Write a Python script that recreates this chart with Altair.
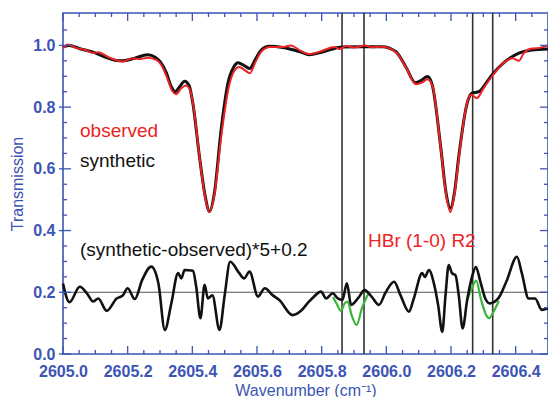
import altair as alt
import pandas as pd

# --- spectra: wavenumber (cm-1) and transmission ---
syn_wn = [2605.000, 2605.020, 2605.050, 2605.093, 2605.130, 2605.160, 2605.186, 2605.220,
          2605.262, 2605.285, 2605.300, 2605.320, 2605.335, 2605.347, 2605.362, 2605.376,
          2605.390, 2605.402, 2605.422, 2605.440, 2605.453, 2605.468, 2605.489, 2605.510,
          2605.528, 2605.541, 2605.560, 2605.577, 2605.595, 2605.613, 2605.638, 2605.680,
          2605.731, 2605.762, 2605.800, 2605.864, 2605.920, 2605.987, 2606.029, 2606.060,
          2606.090, 2606.110, 2606.127, 2606.142, 2606.168, 2606.185, 2606.198, 2606.211,
          2606.224, 2606.250, 2606.265, 2606.286, 2606.310, 2606.327, 2606.368, 2606.410,
          2606.450, 2606.500]
syn_T = [0.995, 1.000, 0.990, 0.978, 0.962, 0.952, 0.950, 0.958,
         0.970, 0.962, 0.948, 0.910, 0.866, 0.850, 0.868, 0.884,
         0.870, 0.810, 0.640, 0.510, 0.462, 0.520, 0.726, 0.877,
         0.930, 0.944, 0.935, 0.925, 0.955, 0.985, 0.997, 0.993,
         0.980, 0.970, 0.978, 0.995, 0.996, 0.996, 0.980, 0.931,
         0.879, 0.888, 0.899, 0.872, 0.672, 0.520, 0.472, 0.525,
         0.640, 0.813, 0.845, 0.850, 0.880, 0.904, 0.948, 0.975,
         0.985, 0.988]

obs_wn = [2605.000, 2605.015, 2605.040, 2605.070, 2605.093, 2605.110, 2605.140, 2605.186,
          2605.215, 2605.240, 2605.262, 2605.290, 2605.305, 2605.322, 2605.338, 2605.350,
          2605.365, 2605.380, 2605.392, 2605.404, 2605.422, 2605.440, 2605.453, 2605.468,
          2605.490, 2605.512, 2605.530, 2605.545, 2605.562, 2605.578, 2605.596, 2605.615,
          2605.640, 2605.680, 2605.705, 2605.731, 2605.762, 2605.800, 2605.840, 2605.855,
          2605.875, 2605.900, 2605.935, 2605.955, 2605.985, 2606.030, 2606.060, 2606.092,
          2606.112, 2606.127, 2606.143, 2606.168, 2606.185, 2606.198, 2606.211, 2606.226,
          2606.250, 2606.263, 2606.280, 2606.300, 2606.327, 2606.365, 2606.390, 2606.410,
          2606.425, 2606.450, 2606.475, 2606.500]
obs_T = [0.990, 1.003, 0.992, 0.985, 0.975, 0.978, 0.962, 0.948,
         0.958, 0.956, 0.960, 0.952, 0.935, 0.895, 0.852, 0.842,
         0.860, 0.870, 0.858, 0.800, 0.640, 0.505, 0.460, 0.515,
         0.710, 0.862, 0.918, 0.930, 0.920, 0.910, 0.948, 0.982,
         0.995, 0.995, 1.000, 0.985, 0.972, 0.982, 0.995, 0.988,
         0.998, 0.993, 1.000, 0.994, 0.996, 0.978, 0.930, 0.874,
         0.880, 0.890, 0.868, 0.670, 0.515, 0.460, 0.520, 0.650,
         0.815, 0.840, 0.829, 0.860, 0.900, 0.945, 0.958, 0.950,
         0.975, 0.990, 0.992, 1.000]

# --- residual: (synthetic-observed)*5+0.2 ---
res_wn = [2605.000, 2605.020, 2605.052, 2605.075, 2605.093, 2605.109, 2605.135, 2605.166,
          2605.185, 2605.200, 2605.222, 2605.245, 2605.273, 2605.295, 2605.315, 2605.335,
          2605.356, 2605.366, 2605.376, 2605.402, 2605.412, 2605.425, 2605.438, 2605.448,
          2605.462, 2605.484, 2605.500, 2605.517, 2605.545, 2605.560, 2605.577, 2605.603,
          2605.624, 2605.649, 2605.669, 2605.710, 2605.736, 2605.756, 2605.775, 2605.798,
          2605.814, 2605.834, 2605.850, 2605.864, 2605.878, 2605.891, 2605.912, 2605.933,
          2605.955, 2605.977, 2605.998, 2606.024, 2606.044, 2606.070, 2606.085, 2606.111,
          2606.119, 2606.132, 2606.147, 2606.160, 2606.173, 2606.183, 2606.193, 2606.203,
          2606.214, 2606.224, 2606.236, 2606.250, 2606.265, 2606.277, 2606.291, 2606.306,
          2606.320, 2606.346, 2606.371, 2606.404, 2606.419, 2606.440, 2606.460, 2606.481,
          2606.500]
res_T = [0.228, 0.168, 0.218, 0.195, 0.170, 0.180, 0.140, 0.180,
         0.190, 0.213, 0.178, 0.240, 0.283, 0.229, 0.078, 0.164,
         0.262, 0.245, 0.272, 0.270, 0.218, 0.116, 0.224, 0.180,
         0.190, 0.078, 0.190, 0.299, 0.262, 0.245, 0.267, 0.186,
         0.213, 0.190, 0.175, 0.126, 0.140, 0.164, 0.185, 0.202,
         0.180, 0.197, 0.180, 0.175, 0.229, 0.159, 0.180, 0.207,
         0.185, 0.159, 0.200, 0.234, 0.190, 0.137, 0.180, 0.262,
         0.250, 0.272, 0.229, 0.160, 0.072, 0.190, 0.288, 0.262,
         0.255, 0.190, 0.083, 0.175, 0.250, 0.282, 0.234, 0.180,
         0.164, 0.180, 0.234, 0.315, 0.262, 0.180, 0.180, 0.143,
         0.148]

# alternative residual inside the two fitted windows
alt1_wn = [2605.835, 2605.848, 2605.859, 2605.872, 2605.880, 2605.893, 2605.908, 2605.925, 2605.947]
alt1_T = [0.185, 0.160, 0.140, 0.165, 0.170, 0.125, 0.094, 0.150, 0.202]
alt2_wn = [2606.250, 2606.265, 2606.278, 2606.292, 2606.306, 2606.318, 2606.333, 2606.348]
alt2_T = [0.175, 0.215, 0.238, 0.180, 0.133, 0.116, 0.140, 0.172]

# window boundaries
window_wn = [2605.863, 2605.931, 2606.267, 2606.329]

# axis ticks
x_major = [2605.0, 2605.2, 2605.4, 2605.6, 2605.8, 2606.0, 2606.2, 2606.4]
x_minor = [2605.05, 2605.1, 2605.15, 2605.25, 2605.3, 2605.35, 2605.45, 2605.5, 2605.55,
           2605.65, 2605.7, 2605.75, 2605.85, 2605.9, 2605.95, 2606.05, 2606.1, 2606.15,
           2606.25, 2606.3, 2606.35, 2606.45]
y_major = [0.0, 0.2, 0.4, 0.6, 0.8, 1.0]
y_minor = [0.05, 0.1, 0.15, 0.25, 0.3, 0.35, 0.45, 0.5, 0.55, 0.65, 0.7, 0.75,
           0.85, 0.9, 0.95, 1.05]

W, H = 485, 341
BLUE = "#3c54b4"
FONT = "Liberation Sans"

xs = alt.Scale(domain=[2605.0, 2606.5], nice=False, zero=False)
ys = alt.Scale(domain=[0.0, 1.105], nice=False, zero=False)
xaxis = alt.Axis(values=x_major, format=".1f", title="Wavenumber (cm\u207b\u00b9)",
                 grid=False, domain=False, ticks=False, tickSize=0, labelPadding=9,
                 labelFont=FONT, labelFontSize=16, labelFontWeight="bold", labelColor=BLUE,
                 labelOverlap=False, labelFlush=False,
                 titleFont=FONT, titleFontSize=16, titleFontWeight="normal", titleColor=BLUE,
                 titleBaseline="alphabetic", titleY=41)
yaxis = alt.Axis(values=y_major, format=".1f", title="Transmission",
                 grid=False, domain=False, ticks=False, tickSize=0, labelPadding=8,
                 labelFont=FONT, labelFontSize=16, labelFontWeight="bold", labelColor=BLUE,
                 labelOverlap=False, labelFlush=False,
                 titleFont=FONT, titleFontSize=16, titleFontWeight="normal", titleColor=BLUE,
                 titleAngle=-90, titleAlign="center", titleBaseline="middle",
                 titleX=-46, titleY=H / 2)
X = alt.X("wn:Q", scale=xs, axis=xaxis)
Y = alt.Y("T:Q", scale=ys, axis=yaxis)

syn = pd.DataFrame({"wn": syn_wn, "T": syn_T})
obs = pd.DataFrame({"wn": obs_wn, "T": obs_T})
res = pd.DataFrame({"wn": res_wn, "T": res_T})
alts = pd.DataFrame({"wn": alt1_wn + alt2_wn, "T": alt1_T + alt2_T,
                     "seg": ["a"] * len(alt1_wn) + ["b"] * len(alt2_wn)})

windows = alt.Chart(pd.DataFrame({"wn": window_wn})).mark_rule(
    color="#333333", strokeWidth=1.6).encode(x=X)
zero_line = alt.Chart(pd.DataFrame({"T": [0.2]})).mark_rule(
    color="#555555", strokeWidth=1.1).encode(y=Y)

syn_line = alt.Chart(syn).mark_line(color="#111111", strokeWidth=3,
                                    interpolate="monotone").encode(x=X, y=Y)
obs_line = alt.Chart(obs).mark_line(color="#ee2222", strokeWidth=2,
                                    interpolate="monotone").encode(x=X, y=Y)
alt_line = alt.Chart(alts).mark_line(color="#3cb43c", strokeWidth=2.2,
                                     interpolate="monotone").encode(x=X, y=Y, detail="seg:N")
res_line = alt.Chart(res).mark_line(color="#111111", strokeWidth=2.6,
                                    interpolate="monotone").encode(x=X, y=Y)


def xticks(vals, length):
    df = pd.DataFrame({"wn": vals})
    bottom = alt.Chart(df).mark_rule(color=BLUE, strokeWidth=1.3).encode(
        x=X, y=alt.value(H - length), y2=alt.value(H))
    top = alt.Chart(df).mark_rule(color=BLUE, strokeWidth=1.3).encode(
        x=X, y=alt.value(0), y2=alt.value(length))
    return [bottom, top]


def yticks(vals, length, out):
    df = pd.DataFrame({"T": vals})
    left = alt.Chart(df).mark_rule(color=BLUE, strokeWidth=1.3).encode(
        y=Y, x=alt.value(-out), x2=alt.value(length))
    right = alt.Chart(df).mark_rule(color=BLUE, strokeWidth=1.3).encode(
        y=Y, x=alt.value(W - length), x2=alt.value(W))
    return [left, right]


ticks = xticks(x_major, 8) + xticks(x_minor, 4) + yticks(y_major, 8, 4) + yticks(y_minor, 4, 0)


def label(text, color, px, py):
    return alt.Chart(pd.DataFrame({"t": [text]})).mark_text(
        font=FONT, fontSize=19, color=color, align="left", baseline="alphabetic").encode(
        text="t:N", x=alt.value(px), y=alt.value(py))


labels = [
    label("observed", "#ee2222", 17, 124),
    label("synthetic", "#111111", 17, 154),
    label("(synthetic-observed)*5+0.2", "#111111", 17, 243),
    label("HBr (1-0) R2", "#ee2222", 305, 234),
]

chart = alt.layer(
    windows, zero_line, syn_line, obs_line, alt_line, res_line, *ticks, *labels
).properties(
    width=W, height=H,
    autosize=alt.AutoSizeParams(type="none"),
    padding={"left": 63, "top": 13, "right": 0, "bottom": 43},
    background="white",
).configure_view(stroke=BLUE, strokeWidth=1.6)

chart.save("out.html", embed_options={"renderer": "svg", "actions": False})
